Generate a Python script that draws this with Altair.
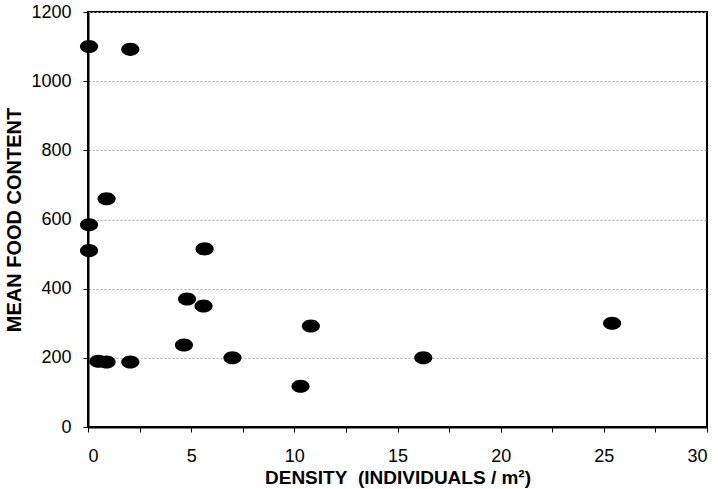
import altair as alt
import pandas as pd

density = [0.05, 2.05, 0.9, 0.05, 0.05, 5.65, 4.8, 5.6, 4.65, 0.5, 0.9, 2.05, 7.0, 10.3, 10.8, 16.25, 25.4]
food = [1100, 1092, 660, 585, 510, 515, 370, 350, 237, 190, 188, 188, 200, 118, 292, 200, 300]

df = pd.DataFrame({"density": density, "food": food})

ellipse = "M-1,0 A1,0.72 0 1,1 1,0 A1,0.72 0 1,1 -1,0 Z"

x_ticks = [i * 2.5 for i in range(13)]
y_ticks = [0, 200, 400, 600, 800, 1000, 1200]

chart = alt.Chart(df).mark_point(
    shape=ellipse, filled=True, color="black", opacity=1, size=330
).encode(
    x=alt.X("density:Q",
            scale=alt.Scale(domain=[0, 30], nice=False, zero=True),
            axis=alt.Axis(values=x_ticks, format="d",
                          labelExpr="datum.value % 5 == 0 ? datum.label : ''",
                          title="DENSITY\u00a0\u00a0(INDIVIDUALS / m\u00b2)",
                          grid=False, tickSize=5, labelPadding=15,
                          titleFontSize=19, titlePadding=3)),
    y=alt.Y("food:Q",
            scale=alt.Scale(domain=[0, 1200], nice=False),
            axis=alt.Axis(values=y_ticks, format="d", title="MEAN FOOD CONTENT",
                          grid=True, gridColor="#aaaaaa", gridDash=[2, 2],
                          gridWidth=1, tickSize=5, labelPadding=12,
                          titleFontSize=20, titlePadding=6)),
).properties(
    width=619, height=415,
    background="white",
    autosize=alt.AutoSizeParams(type="none"),
    padding={"left": 88, "top": 12, "right": 11, "bottom": 62},
).configure_view(
    stroke="black", strokeWidth=2
).configure_axis(
    domainColor="black", domainWidth=2, tickColor="black",
    labelFont="Liberation Sans", labelFontSize=18, labelColor="black",
    titleFont="Liberation Sans", titleFontWeight="bold",
    titleColor="black"
)

chart.save("out.html", embed_options={"renderer": "svg", "actions": False})
